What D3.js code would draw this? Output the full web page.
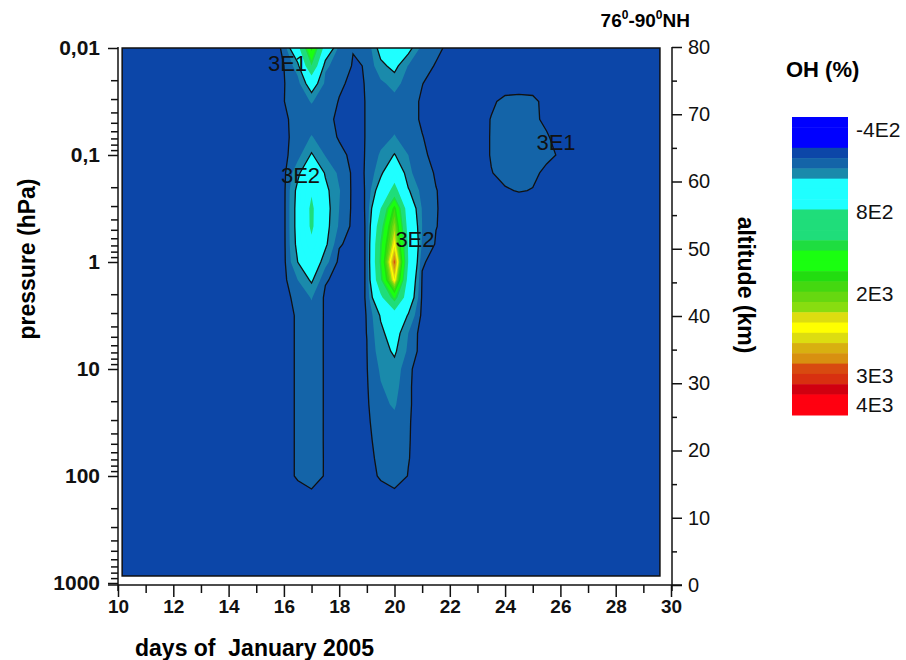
<!DOCTYPE html>
<html lang="en">
<meta charset="utf-8">
<title>OH 76-90N, January 2005</title>
<style>
  body { margin: 0; background: #fff; }
  svg { display: block; font-family: "Liberation Sans", Arial, sans-serif; }
</style>
<body>
<div id="chart"></div>
<script src="https://cdn.jsdelivr.net/npm/d3@7"></script>
<script>
// Pressure levels of the profiles (hPa), top of the plot first.
const pressureLevels = [0.01, 0.0147, 0.0215, 0.0316, 0.0464, 0.0681, 0.1, 0.147, 0.215, 0.316,
  0.464, 0.681, 1, 1.47, 2.15, 3.16, 4.64, 6.81, 10, 14.7, 21.5, 31.6, 46.4, 68.1, 100,
  147, 215, 316, 464, 681, 1000];

// OH change (%) profiles, one per day, same order as pressureLevels.
const ohQuiet   = [0, 0, 0, 0, 0, 0, 0, 0, 0, 0, 0, 0, 0, 0, 0, 0, 0, 0, 0, 0, 0, 0, 0, 0, 0, 0, 0, 0, 0, 0, 0];
const ohDay16   = [40, 30, 25, 28, 15, 5, 0, 0, 0, 0, 0, 0, 0, 0, 0, 0, 0, 0, 0, 0, 0, 0, 0, 0, 0, 0, 0, 0, 0, 0, 0];
const ohDay16_5 = [650, 217, 100, 80, 60, 70, 100, 250, 360, 380, 380, 360, 300, 150, 60, 40, 40, 40, 40, 40, 40, 40, 40, 40, 40, 0, 0, 0, 0, 0, 0];
const ohDay17   = [1800, 1240, 440, 160, 80, 160, 320, 550, 760, 880, 870, 720, 500, 330, 160, 100, 90, 85, 80, 80, 80, 85, 90, 100, 110, 0, 0, 0, 0, 0, 0];
const ohDay17_5 = [600, 167, 120, 80, 60, 80, 140, 280, 350, 380, 370, 340, 200, 40, 8, 18, 19, 20, 21, 21, 21, 20, 19, 18, 16, 0, 0, 0, 0, 0, 0];
const ohDay18   = [100, 110, 45, 25, 10, 20, 60, 120, 160, 150, 130, 40, 0, 0, 0, 0, 0, 0, 0, 0, 0, 0, 0, 0, 0, 0, 0, 0, 0, 0, 0];
const ohDay18_5 = [35, 20, 10, 0, 0, 0, 5, 10, 5, 5, 0, 0, 0, 0, 0, 0, 0, 0, 0, 0, 0, 0, 0, 0, 0, 0, 0, 0, 0, 0, 0];
const ohDay19   = [40, 35, 35, 35, 35, 35, 35, 35, 35, 35, 35, 35, 35, 35, 35, 32, 31, 28, 25, 20, 15, 10, 5, 0, 0, 0, 0, 0, 0, 0, 0];
const ohDay19_5 = [390, 250, 120, 80, 60, 100, 170, 250, 450, 800, 1100, 1300, 1350, 1200, 700, 320, 260, 220, 170, 140, 120, 90, 70, 55, 40, 0, 0, 0, 0, 0, 0];
const ohDay20   = [500, 360, 200, 100, 100, 160, 310, 600, 960, 1850, 2200, 2450, 2950, 2500, 1450, 550, 400, 330, 240, 200, 165, 115, 100, 95, 100, 0, 0, 0, 0, 0, 0];
const ohDay20_5 = [380, 140, 90, 60, 60, 80, 150, 180, 320, 500, 600, 750, 780, 600, 500, 280, 150, 120, 50, 45, 45, 40, 38, 35, 25, 0, 0, 0, 0, 0, 0];
const ohDay21   = [100, 80, 32, 20, 20, 33, 50, 75, 100, 140, 150, 130, 40, 20, 10, 0, -30, -20, -20, -20, -20, -20, -20, -20, -20, 0, 0, 0, 0, 0, 0];
const ohDay21_5 = [60, 20, 0, 0, 0, 0, 0, 20, 33, 35, 33, 20, 0, 0, 0, 0, 0, 0, 0, 0, 0, 0, 0, 0, 0, 0, 0, 0, 0, 0, 0];
const ohDay23_5 = [0, 0, 0, 20, 33, 34, 34, 28, 10, 0, 0, 0, 0, 0, 0, 0, 0, 0, 0, 0, 0, 0, 0, 0, 0, 0, 0, 0, 0, 0, 0];
const ohDay24   = [0, 0, 0, 45, 50, 50, 50, 45, 25, 0, 0, 0, 0, 0, 0, 0, 0, 0, 0, 0, 0, 0, 0, 0, 0, 0, 0, 0, 0, 0, 0];
const ohDay24_5 = [0, 0, 0, 50, 55, 55, 50, 48, 33, 0, 0, 0, 0, 0, 0, 0, 0, 0, 0, 0, 0, 0, 0, 0, 0, 0, 0, 0, 0, 0, 0];
const ohDay25   = [0, 0, 0, 45, 45, 50, 48, 40, 28, 0, 0, 0, 0, 0, 0, 0, 0, 0, 0, 0, 0, 0, 0, 0, 0, 0, 0, 0, 0, 0, 0];
const ohDay25_5 = [0, 0, 0, 10, 15, 38, 40, 20, 5, 0, 0, 0, 0, 0, 0, 0, 0, 0, 0, 0, 0, 0, 0, 0, 0, 0, 0, 0, 0, 0, 0];
const ohDay26   = [0, 0, 0, 0, 0, 0, 25, 5, 0, 0, 0, 0, 0, 0, 0, 0, 0, 0, 0, 0, 0, 0, 0, 0, 0, 0, 0, 0, 0, 0, 0];

const profileDays = [10, 15.5, 16, 16.5, 17, 17.5, 18, 18.5, 19, 19.5, 20, 20.5, 21, 21.5, 22,
  23, 23.5, 24, 24.5, 25, 25.5, 26, 26.5, 30];
const profiles = [ohQuiet, ohQuiet, ohDay16, ohDay16_5, ohDay17, ohDay17_5, ohDay18, ohDay18_5,
  ohDay19, ohDay19_5, ohDay20, ohDay20_5, ohDay21, ohDay21_5, ohQuiet,
  ohQuiet, ohDay23_5, ohDay24, ohDay24_5, ohDay25, ohDay25_5, ohDay26, ohQuiet, ohQuiet];

// Extent of the filled area (days, hPa).
const dataDays = [10.15, 29.6];
const dataPressure = [0.01, 860];

// Colour levels (lower bound of legend bands 1..28) and the colours of bands 0..28.
const bandLevels = [-400, -250, -100, 30, 150, 300, 450, 600, 800, 950, 1100, 1250, 1400, 1550,
  1700, 1850, 2000, 2125, 2250, 2375, 2500, 2625, 2750, 2875, 3000, 3333, 3667, 4000];
const bandColors = ["#0000ff", "#0000ff", "#0000ff", "#0c46a8", "#1464a8", "#1a8aab",
  "#1fffff", "#1fffff", "#1fffff", "#1fdd7a", "#1fdd7a", "#1fdd7a", "#1fdd40",
  "#1aff10", "#1aff10", "#22dd10", "#44d810", "#66d810", "#88dd10", "#dddd10",
  "#ffff00", "#dddd10", "#d8b010", "#d89010", "#d84a10", "#d83010", "#d00010",
  "#ff0010", "#ff0010"];
const lineLevels = [30, 300];
const legendTickValues = [-400, 800, 2000, 3000, 4000];
const legendTickLabels = ["-4E2", "8E2", "2E3", "3E3", "4E3"];

const contourLabelText = ["3E1", "3E2", "3E2", "3E1"];
const contourLabelDays = [16.13, 16.6, 20.74, 25.84];
const contourLabelPressure = [0.0141, 0.154, 0.61, 0.077];

const dayTicks = [10, 12, 14, 16, 18, 20, 22, 24, 26, 28, 30];
const pressureTicks = [0.01, 0.1, 1, 10, 100, 1000];
const pressureTickLabels = ["0,01", "0,1", "1", "10", "100", "1000"];
const altitudeTicks = [0, 10, 20, 30, 40, 50, 60, 70, 80];

// ---- scales
const svg = d3.select("#chart").append("svg").attr("width", 906).attr("height", 660);
const x = d3.scaleLinear().domain([10, 30]).range([118, 671]);
const y = d3.scaleLog().domain([0.01, 1000]).range([48, 583]);
const alt = d3.scaleLinear().domain([0, 80]).range([585, 47]);

// ---- contour grid
const nCols = profileDays.length, nRows = pressureLevels.length;
const values = new Array(nCols * nRows);
for (let r = 0; r < nRows; r++)
  for (let c = 0; c < nCols; c++) values[r * nCols + c] = profiles[c][r];

const colToDay = d3.scaleLinear().domain(d3.range(nCols)).range(profileDays);
const rowToLogP = d3.scaleLinear().domain(d3.range(nRows)).range(pressureLevels.map(Math.log10));
const path = d3.geoPath(d3.geoTransform({
  point(px, py) {
    this.stream.point(x(colToDay(px - 0.5)), y(Math.pow(10, rowToLogP(py - 0.5))));
  }
}));
const contours = d3.contours().size([nCols, nRows]);

const bx0 = x(dataDays[0]), bx1 = x(dataDays[1]);
const by0 = y(dataPressure[0]), by1 = y(dataPressure[1]);

svg.append("clipPath").attr("id", "box")
  .append("rect").attr("x", bx0).attr("y", by0).attr("width", bx1 - bx0).attr("height", by1 - by0);

const plot = svg.append("g").attr("clip-path", "url(#box)");
plot.append("rect").attr("x", bx0).attr("y", by0).attr("width", bx1 - bx0).attr("height", by1 - by0)
  .attr("fill", bandColors[3]);

plot.selectAll("path.fill")
  .data(contours.thresholds(bandLevels)(values))
  .join("path").attr("class", "fill")
  .attr("d", path)
  .attr("fill", (d, i) => bandColors[i + 1])
  .attr("fill-rule", "evenodd");

plot.selectAll("path.line")
  .data(contours.thresholds(lineLevels)(values))
  .join("path").attr("class", "line")
  .attr("d", path)
  .attr("fill", "none")
  .attr("stroke", "#111")
  .attr("stroke-width", 1.3);

plot.selectAll("text.clabel")
  .data(contourLabelText)
  .join("text").attr("class", "clabel")
  .attr("x", (d, i) => x(contourLabelDays[i]))
  .attr("y", (d, i) => y(contourLabelPressure[i]))
  .attr("text-anchor", "middle")
  .attr("dominant-baseline", "central")
  .attr("font-size", 22)
  .attr("fill", "#111")
  .text(d => d);

svg.append("rect").attr("x", bx0).attr("y", by0).attr("width", bx1 - bx0).attr("height", by1 - by0)
  .attr("fill", "none").attr("stroke", "#111").attr("stroke-width", 1.5);

// ---- axes
function styleAxis(g, size, weight) {
  g.select(".domain").remove();
  g.attr("font-family", null).attr("font-size", null);
  g.selectAll("line").attr("stroke", "#111").attr("stroke-width", 1.5);
  g.selectAll("text").attr("font-size", size).attr("font-weight", weight).attr("fill", "#111");
}

const minorP = y.ticks().filter(v => !pressureTicks.some(t => Math.abs(t - v) / t < 1e-6));
svg.append("g").attr("transform", "translate(118,0)")
  .call(d3.axisLeft(y).tickValues(minorP).tickSize(7).tickFormat(""))
  .call(g => styleAxis(g, 0, "normal"));
svg.append("g").attr("transform", "translate(118,0)")
  .call(d3.axisLeft(y).tickValues(pressureTicks).tickSize(10).tickPadding(8)
    .tickFormat((d, i) => pressureTickLabels[i]))
  .call(g => styleAxis(g, 21, "bold"));

svg.append("g").attr("transform", "translate(0,585)")
  .call(d3.axisBottom(x).tickValues(d3.range(11, 30, 2)).tickSize(8).tickFormat(""))
  .call(g => styleAxis(g, 0, "normal"));
svg.append("g").attr("transform", "translate(0,585)")
  .call(d3.axisBottom(x).tickValues(dayTicks).tickSize(12).tickPadding(3).tickFormat(d3.format("d")))
  .call(g => styleAxis(g, 19, "bold"));

svg.append("g").attr("transform", "translate(672,0)")
  .call(d3.axisRight(alt).tickValues(d3.range(5, 80, 10)).tickSize(5).tickFormat(""))
  .call(g => styleAxis(g, 0, "normal"));
svg.append("g").attr("transform", "translate(672,0)")
  .call(d3.axisRight(alt).tickValues(altitudeTicks).tickSize(10).tickPadding(6).tickFormat(d3.format("d")))
  .call(g => styleAxis(g, 20, "normal"));

const axisLines = [[118, 47, 118, 591], [108, 585, 682, 585], [672, 47, 672, 591]];
svg.selectAll("line.axis").data(axisLines).join("line").attr("class", "axis")
  .attr("x1", d => d[0]).attr("y1", d => d[1]).attr("x2", d => d[2]).attr("y2", d => d[3])
  .attr("stroke", "#111").attr("stroke-width", 1.5);

// ---- titles
svg.append("text").attr("transform", "translate(35,259) rotate(-90)")
  .attr("text-anchor", "middle").attr("font-size", 23).attr("font-weight", "bold")
  .text("pressure (hPa)");
svg.append("text").attr("transform", "translate(738,285) rotate(90)")
  .attr("text-anchor", "middle").attr("font-size", 23).attr("font-weight", "bold")
  .text("altitude (km)");
svg.append("text").attr("x", 135).attr("y", 656)
  .attr("font-size", 23).attr("font-weight", "bold").style("white-space", "pre")
  .text("days of  January 2005");

const title = svg.append("text").attr("x", 690).attr("y", 27).attr("text-anchor", "end")
  .attr("font-size", 19).attr("font-weight", "bold");
title.append("tspan").text("76");
title.append("tspan").attr("font-size", 12).attr("dy", -8).text("0");
title.append("tspan").attr("dy", 8).text("-90");
title.append("tspan").attr("font-size", 12).attr("dy", -8).text("0");
title.append("tspan").attr("dy", 8).text("NH");

// ---- legend
svg.append("text").attr("x", 786).attr("y", 77)
  .attr("font-size", 22).attr("font-weight", "bold").text("OH (%)");

const legendY = d3.scaleLinear().domain([0, bandColors.length]).range([117, 415]);
svg.append("g").selectAll("rect")
  .data(bandColors)
  .join("rect")
  .attr("x", 792).attr("width", 56)
  .attr("y", (d, i) => legendY(i))
  .attr("height", legendY(1) - legendY(0) + 0.5)
  .attr("fill", d => d);

svg.append("g").selectAll("text")
  .data(legendTickValues)
  .join("text")
  .attr("x", 856)
  .attr("y", (d, i) => {
    const k = bandLevels.indexOf(d) + 1;
    return k === bandColors.length - 1 ? legendY(k) : legendY(k) + 2;
  })
  .attr("dominant-baseline", "central")
  .attr("font-size", 21)
  .attr("fill", "#111")
  .text((d, i) => legendTickLabels[i]);
</script>
</body>
</html>
